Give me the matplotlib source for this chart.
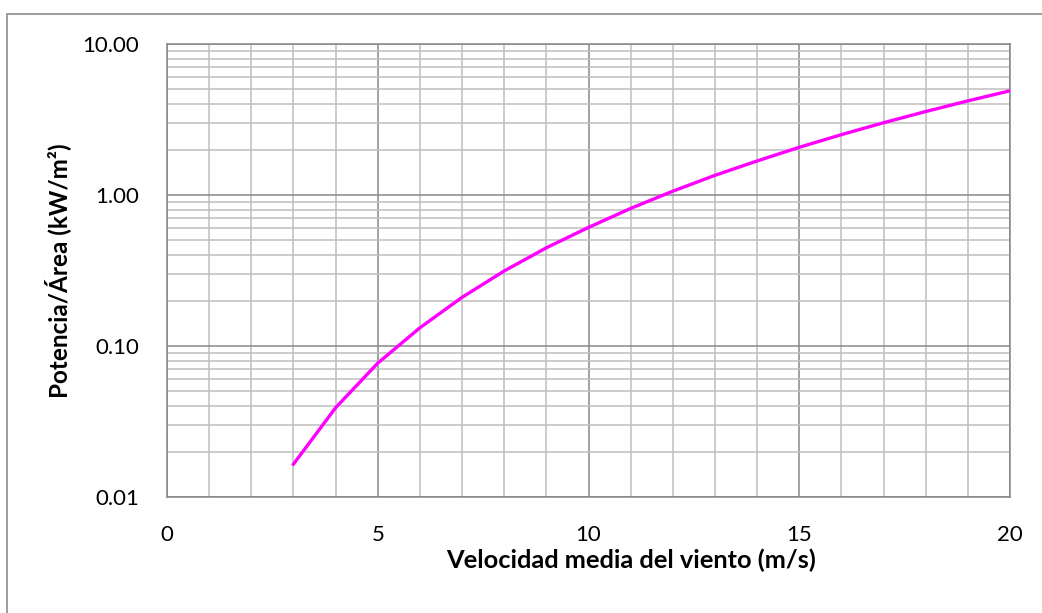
import numpy as np
import matplotlib.pyplot as plt
from matplotlib.patches import Rectangle
from matplotlib.ticker import FixedLocator, NullFormatter

plt.rcParams['font.family'] = ['Lato', 'DejaVu Sans']

# datos
velocidad = [3, 4, 5, 6, 7, 8, 9, 10, 11, 12, 13, 14, 15, 16, 17, 18, 19, 20]
potencia = [0.0165, 0.039, 0.077, 0.132, 0.21, 0.314, 0.447, 0.61, 0.815,
            1.06, 1.35, 1.68, 2.07, 2.51, 3.01, 3.57, 4.2, 4.9]
y_ticks = [0.01, 0.1, 1, 10]
y_labels = ['0.01', '0.10', '1.00', '10.00']
x_ticks = [0, 5, 10, 15, 20]

fig = plt.figure(figsize=(10.42, 6.13), dpi=100)
ax = fig.add_axes([167/1042, 1 - 497/613, (1010-167)/1042, (497-44)/613])

# marco exterior
fig.patches.append(Rectangle((7/1042, -0.1), 1.2, 1 - 14/613 + 0.1,
                             transform=fig.transFigure, fill=False,
                             edgecolor='#8c8c8c', linewidth=1.2))

ax.plot(velocidad, potencia, color='#FF00FF', linewidth=2.4, zorder=3)

ax.set_yscale('log')
ax.set_xlim(0, 20)
ax.set_ylim(0.01, 10)
ax.set_xticks(x_ticks)
ax.set_xticklabels([str(t) for t in x_ticks])
ax.set_yticks(y_ticks)
ax.set_yticklabels(y_labels)
ax.xaxis.set_minor_locator(FixedLocator(np.arange(1, 20)))
ax.yaxis.set_minor_locator(FixedLocator([m * 10.0**e for e in range(-2, 1) for m in range(2, 10)]))
ax.yaxis.set_minor_formatter(NullFormatter())

ax.grid(which='major', color='#878787', linewidth=1.1)
ax.grid(which='minor', color='#bfbfbf', linewidth=1.1)
ax.tick_params(which='both', length=0, labelsize=16, colors='black')
ax.tick_params(axis='x', pad=20)
ax.tick_params(axis='y', pad=20)
for s in ax.spines.values():
    s.set_color('#878787')
    s.set_linewidth(1.1)

ax.set_xlabel('Velocidad media del viento (m/s)', fontsize=18.3, fontweight='bold')
ax.xaxis.set_label_coords((631 - 167) / 843, -(560 - 497) / 453)
ax.set_ylabel('Potencia/Área (kW/m²)', fontsize=17.5, fontweight='bold')
ax.yaxis.set_label_coords(-(167 - 58) / 843, 0.5)
ax.xaxis.label.set_verticalalignment('center')
ax.yaxis.label.set_verticalalignment('center')

fig.savefig('out.png', dpi=100)
